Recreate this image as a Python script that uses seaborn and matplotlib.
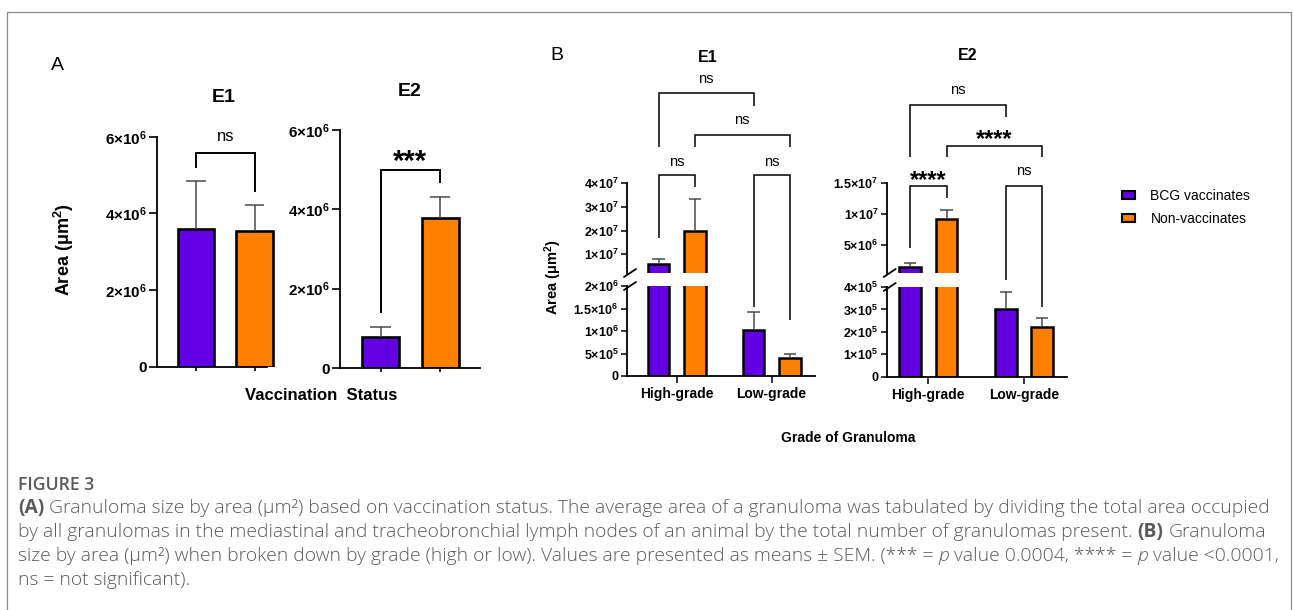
import matplotlib
matplotlib.use("Agg")
import matplotlib.pyplot as plt
from matplotlib.lines import Line2D
from matplotlib.patches import Patch, Rectangle
import numpy as np
import pandas as pd
import seaborn as sns

# ---------------------------------------------------------------- data
groups = ["BCG vaccinates", "Non-vaccinates"]
grades = ["High-grade", "Low-grade"]
palette = ["#6300E3", "#FF8000"]

# Panel A: mean granuloma area (um^2) and SEM by vaccination status
a_e1_mean = [3.59e6, 3.53e6]
a_e1_sem = [1.26e6, 0.70e6]
a_e2_mean = [0.79e6, 3.77e6]
a_e2_sem = [0.25e6, 0.53e6]

# Panel B: mean area and SEM by granuloma grade (High-grade, Low-grade)
b_e1_bcg_mean = [5.7e6, 1.02e6]
b_e1_bcg_sem = [2.2e6, 0.41e6]
b_e1_non_mean = [1.97e7, 0.39e6]
b_e1_non_sem = [1.38e7, 0.11e6]
b_e2_bcg_mean = [1.42e6, 3.03e5]
b_e2_bcg_sem = [0.65e6, 0.76e5]
b_e2_non_mean = [9.16e6, 2.22e5]
b_e2_non_sem = [1.44e6, 0.40e5]

a_ticks = [0, 2e6, 4e6, 6e6]
b_e1_upper_ticks = [1e7, 2e7, 3e7, 4e7]
b_e1_lower_ticks = [0, 5e5, 1e6, 1.5e6, 2e6]
b_e2_upper_ticks = [5e6, 1e7, 1.5e7]
b_e2_lower_ticks = [0, 1e5, 2e5, 3e5, 4e5]

caption_title = "FIGURE 3"
caption_lines = [
    [("(A)", "b"), (" Granuloma size by area (\u03bcm\u00b2) based on vaccination status. The average area of a "
                   "granuloma was tabulated by dividing the total area occupied", "n")],
    [("by all granulomas in the mediastinal and tracheobronchial lymph nodes of an animal by the total "
      "number of granulomas present. ", "n"), ("(B)", "b"), (" Granuloma", "n")],
    [("size by area (\u03bcm\u00b2) when broken down by grade (high or low). Values are presented as "
      "means \u00b1 SEM. (*** = ", "n"), ("p", "i"), (" value 0.0004, **** = ", "n"), ("p", "i"),
     (" value <0.0001,", "n")],
    [("ns = not significant).", "n")],
]

# ---------------------------------------------------------------- style
W, H, DPI = 1293, 610, 100
sns.set_style("ticks")
plt.rcParams["font.family"] = ["Liberation Sans", "DejaVu Sans"]
plt.rcParams["mathtext.default"] = "regular"
plt.rcParams["axes.linewidth"] = 1.3
plt.rcParams["axes.edgecolor"] = "black"
plt.rcParams["xtick.color"] = "black"
plt.rcParams["ytick.color"] = "black"
plt.rcParams["text.color"] = "black"

fig = plt.figure(figsize=(W / DPI, H / DPI), dpi=DPI)
fig.patch.set_facecolor("white")
renderer = fig.canvas.get_renderer()


def add_ax(left, top, right, bottom):
    return fig.add_axes([left / W, 1 - bottom / H, (right - left) / W, (bottom - top) / H])


def sci(v):
    if v == 0:
        return "0"
    e = int(np.floor(np.log10(v)))
    m = v / 10 ** e
    return f"{m:g}\u00d710$^{{{e}}}$"


ERR_COLOR = "#4a4a4a"


def sem_bars(ax, xs, mean, sem, cap_half):
    """Upper SEM whiskers with a flat cap, drawn only where they fall inside the axis range."""
    lo, hi = ax.get_ylim()
    for x, m, s in zip(xs, mean, sem):
        top = m + s
        if top <= lo:
            continue
        ax.vlines(x, max(m, lo), min(top, hi), color=ERR_COLOR, lw=1.1, zorder=3)
        if top <= hi:
            ax.hlines(top, x - cap_half, x + cap_half, color=ERR_COLOR, lw=1.1, zorder=3)


# ---------------------------------------------------------------- panel A
def panel_a(ax, mean, sem, xlim, xbounds):
    df = pd.DataFrame({"group": groups, "area": mean})
    sns.barplot(data=df, x="group", y="area", hue="group", order=groups, hue_order=groups,
                palette=palette, saturation=1, width=0.62, edgecolor="black", linewidth=1.9,
                errorbar=None, legend=False, ax=ax)
    ax.set_xlim(*xlim)
    ax.set_ylim(0, 6e6)
    sem_bars(ax, np.arange(len(groups)), mean, sem, 0.17)
    ax.set_yticks(a_ticks, [sci(v) for v in a_ticks], fontweight="bold", fontsize=11)
    ax.set_xticks(range(len(groups)), [""] * len(groups))
    ax.set_xlabel("")
    ax.set_ylabel("")
    sns.despine(ax=ax)
    ax.spines["bottom"].set_bounds(*xbounds)
    ax.tick_params(axis="y", length=6, width=1.2, pad=1.5)
    ax.tick_params(axis="x", length=3, width=1.2)


ax_a1 = add_ax(157, 136.7, 275, 366.7)
panel_a(ax_a1, a_e1_mean, a_e1_sem, (-0.667, 1.35), (-0.667, 1.21))
ax_a2 = add_ax(340, 130, 480, 368)
panel_a(ax_a2, a_e2_mean, a_e2_sem, (-0.68, 1.67), (-0.68, 1.67))

# ---------------------------------------------------------------- panel B (broken axes)
B_WIDTH = 0.76
OFF = B_WIDTH / 4


def panel_b(ax_top, ax_bot, bcg_mean, bcg_sem, non_mean, non_sem,
            top_lim, bot_lim, top_ticks, bot_ticks, xlim):
    df = pd.DataFrame({"grade": grades * 2,
                       "group": [groups[0]] * 2 + [groups[1]] * 2,
                       "area": list(bcg_mean) + list(non_mean)})
    for ax, lim in ((ax_top, top_lim), (ax_bot, bot_lim)):
        sns.barplot(data=df, x="grade", y="area", hue="group", order=grades, hue_order=groups,
                    palette=palette, saturation=1, width=B_WIDTH, gap=0.4, edgecolor="black",
                    linewidth=1.8, errorbar=None, legend=False, ax=ax)
        ax.set_xlim(*xlim)
        ax.set_ylim(*lim)
        for off, m, s in zip((-OFF, OFF), (bcg_mean, non_mean), (bcg_sem, non_sem)):
            sem_bars(ax, np.arange(len(grades)) + off, m, s, 0.065)
        ax.set_xlabel("")
        ax.set_ylabel("")
        ax.tick_params(axis="y", length=4.5, width=1.1, pad=1.5)
    ax_top.set_yticks(top_ticks, [sci(v) for v in top_ticks], fontweight="bold", fontsize=9)
    ax_bot.set_yticks(bot_ticks, [sci(v) for v in bot_ticks], fontweight="bold", fontsize=9)
    sns.despine(ax=ax_top, bottom=True)
    sns.despine(ax=ax_bot)
    ax_top.tick_params(axis="x", bottom=False, labelbottom=False)
    ax_bot.set_xticks(range(len(grades)), grades, fontweight="bold", fontsize=10)
    ax_bot.tick_params(axis="x", length=5, width=1.1, pad=3)
    # break marks on the y axis
    for ax, edge in ((ax_top, 0.0), (ax_bot, 1.0)):
        x0, y0 = fig.transFigure.inverted().transform(ax.transAxes.transform((0, edge)))
        dx, dy = 6 / W, 4 / H
        fig.add_artist(Line2D([x0 + 3 / W - dx, x0 + 3 / W + dx], [y0 - dy, y0 + dy],
                              transform=fig.transFigure, color="black", lw=1.3))


ax_b1t = add_ax(627, 183.3, 815, 273)
ax_b1b = add_ax(627, 286, 815, 376)
panel_b(ax_b1t, ax_b1b, b_e1_bcg_mean, b_e1_bcg_sem, b_e1_non_mean, b_e1_non_sem,
        (2e6, 4e7), (0, 2e6), b_e1_upper_ticks, b_e1_lower_ticks, (-0.523, 1.456))

ax_b2t = add_ax(886.7, 183.3, 1066.7, 273)
ax_b2b = add_ax(886.7, 287, 1066.7, 376.7)
panel_b(ax_b2t, ax_b2b, b_e2_bcg_mean, b_e2_bcg_sem, b_e2_non_mean, b_e2_non_sem,
        (4e5, 1.5e7), (0, 4e5), b_e2_upper_ticks, b_e2_lower_ticks, (-0.435, 1.446))


# ---------------------------------------------------------------- significance brackets
def fig_xy(ax, x, y):
    return fig.transFigure.inverted().transform(ax.transData.transform((x, y)))


def bracket(ax_h, x1, x2, y_h, left_end, right_end, label, y_label, size, weight, lw):
    (ax_l, y_l), (ax_r, y_r) = left_end, right_end
    pts = [fig_xy(ax_l, x1, y_l), fig_xy(ax_h, x1, y_h), fig_xy(ax_h, x2, y_h), fig_xy(ax_r, x2, y_r)]
    xs, ys = zip(*pts)
    fig.add_artist(Line2D(xs, ys, transform=fig.transFigure, color="black", lw=lw,
                          solid_joinstyle="miter", solid_capstyle="butt"))
    mid = 0.58 if "*" in label else 0.26
    xm = (pts[1][0] + pts[2][0]) / 2
    yb = fig_xy(ax_h, 0, y_label)[1] - mid * size * DPI / 72 / H
    fig.text(xm, yb, label, ha="center", va="baseline", fontsize=size, fontweight=weight)


bracket(ax_a1, 0, 1, 5.575e6, (ax_a1, 5.18e6), (ax_a1, 4.57e6), "ns", 6.0e6, 12, "normal", 1.4)
bracket(ax_a2, 0, 1, 4.99e6, (ax_a2, 1.38e6), (ax_a2, 4.66e6), "***", 5.41e6, 21, "bold", 1.4)

bracket(ax_b1t, -OFF, OFF, 4.35e7, (ax_b1t, 1.665e7), (ax_b1t, 3.84e7), "ns", 4.9e7, 10.5, "normal", 1.1)
bracket(ax_b1t, 1 - OFF, 1 + OFF, 4.35e7, (ax_b1b, 1.54e6), (ax_b1b, 1.24e6), "ns", 4.9e7, 10.5, "normal", 1.1)
bracket(ax_b1t, OFF, 1 + OFF, 6.03e7, (ax_b1t, 5.53e7), (ax_b1t, 5.53e7), "ns", 6.66e7, 10.5, "normal", 1.1)
bracket(ax_b1t, -OFF, 1 - OFF, 7.81e7, (ax_b1t, 5.53e7), (ax_b1t, 7.29e7), "ns", 8.42e7, 10.5, "normal", 1.1)

bracket(ax_b2t, -OFF, OFF, 1.456e7, (ax_b2t, 4.42e6), (ax_b2t, 1.256e7), "****", 1.663e7, 17, "bold", 1.1)
bracket(ax_b2t, 1 - OFF, 1 + OFF, 1.456e7, (ax_b2b, 4.3e5), (ax_b2b, 3.11e5), "ns", 1.689e7, 10.5, "normal", 1.1)
bracket(ax_b2t, OFF, 1 + OFF, 2.107e7, (ax_b2t, 1.933e7), (ax_b2t, 1.933e7), "****", 2.324e7, 17, "bold", 1.1)
bracket(ax_b2t, -OFF, 1 - OFF, 2.775e7, (ax_b2t, 1.933e7), (ax_b2t, 2.584e7), "ns", 3.019e7, 10.5, "normal", 1.1)


# ---------------------------------------------------------------- figure labels
def ftext(x, y, s, **kw):
    kw.setdefault("ha", "center")
    kw.setdefault("va", "center")
    return fig.text(x / W, 1 - y / H, s, **kw)


ftext(57, 65, "A", fontsize=14)
ftext(557, 55, "B", fontsize=14)
ftext(224, 97, "E1", fontsize=14, fontweight="bold")
ftext(410, 92, "E2", fontsize=14, fontweight="bold")
ftext(708, 57, "E1", fontsize=11.5, fontweight="bold")
ftext(968, 55, "E2", fontsize=11.5, fontweight="bold")
ftext(64, 250, "Area (\u03bcm$^{2}$)", fontsize=13, fontweight="bold", rotation=90)
ftext(553, 277, "Area (\u03bcm$^{2}$)", fontsize=10.5, fontweight="bold", rotation=90)
ftext(321, 396, "Vaccination  Status", fontsize=12, fontweight="bold")
ftext(848, 438, "Grade of Granuloma", fontsize=10, fontweight="bold")

handles = [Patch(facecolor=c, edgecolor="black", linewidth=1.5, label=g) for c, g in zip(palette, groups)]
fig.legend(handles=handles, loc="upper left", bbox_to_anchor=(1122 / W, 1 - 189 / H), frameon=False,
           fontsize=10, handlelength=0.95, handleheight=0.45, handletextpad=1.1, labelspacing=0.65,
           borderpad=0, borderaxespad=0)

# ---------------------------------------------------------------- caption
CAP_FONT = ["Open Sans", "DejaVu Sans"]
CAP_COLOR = "#5a5a5a"
STYLES = {"n": {"fontweight": "light"}, "b": {"fontweight": "bold"},
          "i": {"fontstyle": "italic", "fontweight": "light"}}


def measure(s, size, **style):
    t = fig.text(0, 0, s, fontsize=size, family=CAP_FONT, **style)
    w = t.get_window_extent(renderer).width
    t.remove()
    return w


def draw_runs(runs, x_px, base_px, size, draw=True):
    space = measure("a a", size, **STYLES["n"]) - measure("aa", size, **STYLES["n"])
    x = x_px
    for txt, key in runs:
        style = STYLES[key]
        core = txt.strip(" ")
        lead = len(txt) - len(txt.lstrip(" "))
        trail = len(txt) - len(txt.rstrip(" "))
        x += lead * space
        if draw:
            t = fig.text(x / W, 1 - base_px / H, core, fontsize=size, family=CAP_FONT, color=CAP_COLOR,
                         ha="left", va="baseline", **style)
            w = t.get_window_extent(renderer).width
        else:
            w = measure(core, size, **style)
        x += w + trail * space
    return x - x_px


ref_size = 12
cap_size = ref_size * (1262 - 18) / draw_runs(caption_lines[0], 0, 0, ref_size, draw=False)

fig.text(18 / W, 1 - 490 / H, caption_title, fontsize=cap_size * 0.92, family=CAP_FONT,
         fontweight="semibold", color=CAP_COLOR, ha="left", va="baseline")
for line, centre in zip(caption_lines, (508, 532, 556, 580)):
    draw_runs(line, 18, centre + 5, cap_size)

# outer frame of the figure box
fig.add_artist(Rectangle((7 / W, -0.1), (1291 - 7) / W, 1 - 11.7 / H + 0.1, transform=fig.transFigure,
                         fill=False, edgecolor="#8c8c8c", linewidth=0.9, clip_on=False))

fig.savefig("out.png", dpi=DPI, facecolor="white")
